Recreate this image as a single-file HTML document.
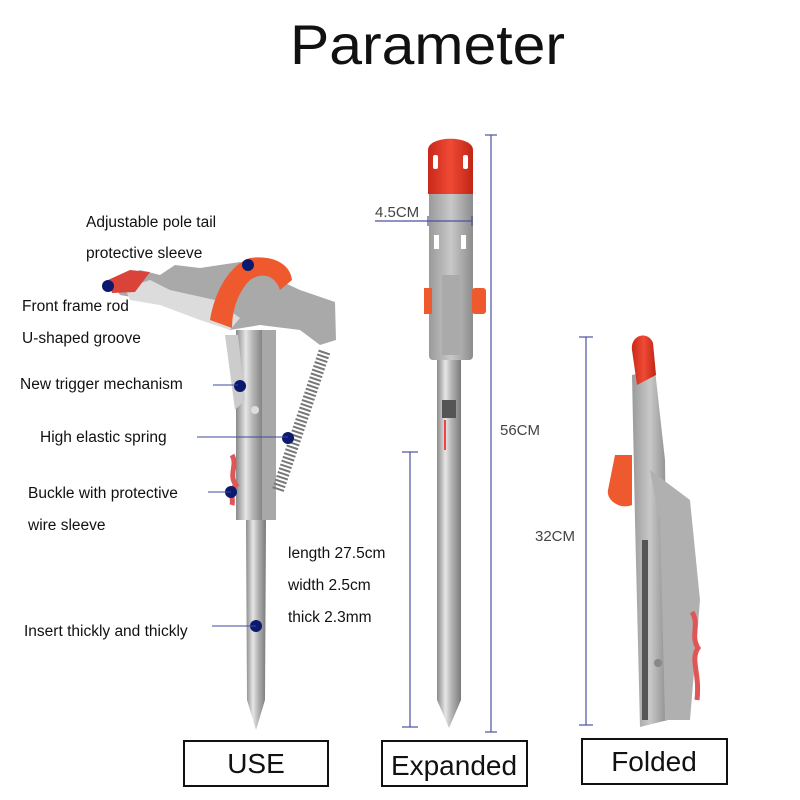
<!DOCTYPE html>
<html><head><meta charset="utf-8"><style>
html,body{margin:0;padding:0;background:#fff;width:800px;height:800px;overflow:hidden}
svg{display:block}
text{font-family:"Liberation Sans",Arial,sans-serif;fill:#111}
</style></head><body>
<svg width="800" height="800" viewBox="0 0 800 800" xmlns="http://www.w3.org/2000/svg">
<defs>
<linearGradient id="steel" x1="0" x2="1" y1="0" y2="0">
<stop offset="0" stop-color="#8a8a8a"/><stop offset="0.35" stop-color="#e6e6e6"/><stop offset="0.6" stop-color="#b5b5b5"/><stop offset="1" stop-color="#7a7a7a"/>
</linearGradient>
<linearGradient id="grey" x1="0" x2="1"><stop offset="0" stop-color="#9a9a9a"/><stop offset="0.5" stop-color="#c8c8c8"/><stop offset="1" stop-color="#8c8c8c"/></linearGradient>
<linearGradient id="red" x1="0" x2="1"><stop offset="0" stop-color="#c9281a"/><stop offset="0.5" stop-color="#ef4a35"/><stop offset="1" stop-color="#c02515"/></linearGradient>
</defs>

<text x="290" y="64" font-size="56" textLength="275" lengthAdjust="spacingAndGlyphs">Parameter</text>

<!-- LEFT PRODUCT -->
<polygon points="246,520 266,520 265,700 256,730 247,700" fill="url(#steel)"/>
<path d="M112,283 L140,270 L160,275 L175,265 L200,268 L240,262 L300,290 L335,302 L336,340 L320,345 L300,330 L260,325 L230,330 L205,310 L175,300 L150,300 L120,295 Z" fill="#a9a9a9"/>
<path d="M125,288 L150,280 L170,290 L215,300 L240,318 L230,330 L200,320 L160,305 L130,300 Z" fill="#dcdcdc"/>
<path d="M108,280 L130,270 L150,272 L135,292 L112,293 Z" fill="#d9433a"/>
<path d="M210,320 C215,290 230,265 250,258 C270,255 290,262 292,280 L280,290 C275,275 262,272 250,280 C238,292 232,310 232,328 Z" fill="#ee5a2e"/>
<rect x="236" y="330" width="28" height="190" fill="url(#steel)"/>
<rect x="262" y="330" width="14" height="190" fill="#a8a8a8"/>
<polygon points="225,335 238,335 245,400 235,410" fill="#ccc"/>
<path d="M278,490 L325,350" stroke="#777" stroke-width="12" stroke-dasharray="2 2"/>
<path d="M232,455 C238,465 228,475 236,485 C228,492 234,498 232,505" stroke="#e05656" stroke-width="5" fill="none"/>
<circle cx="255" cy="410" r="4" fill="#ddd"/>

<!-- label dots and lines -->
<g fill="#0b1a6e">
<circle cx="248" cy="265" r="6"/>
<circle cx="108" cy="286" r="6"/>
<circle cx="240" cy="386" r="6"/>
<circle cx="288" cy="438" r="6"/>
<circle cx="231" cy="492" r="6"/>
<circle cx="256" cy="626" r="6"/>
</g>
<g stroke="#3b4aa0" stroke-width="1">
<line x1="213" y1="385" x2="238" y2="385"/>
<line x1="197" y1="437" x2="288" y2="437"/>
<line x1="208" y1="492" x2="231" y2="492"/>
<line x1="212" y1="626" x2="256" y2="626"/>
</g>

<g font-size="15.5">
<text x="86" y="227">Adjustable pole tail</text>
<text x="86" y="258">protective sleeve</text>
<text x="22" y="311">Front frame rod</text>
<text x="22" y="343">U-shaped groove</text>
<text x="20" y="389">New trigger mechanism</text>
<text x="40" y="442">High elastic spring</text>
<text x="28" y="498">Buckle with protective</text>
<text x="28" y="530">wire sleeve</text>
<text x="288" y="558">length 27.5cm</text>
<text x="288" y="590">width 2.5cm</text>
<text x="288" y="622">thick 2.3mm</text>
<text x="24" y="636">Insert thickly and thickly</text>
</g>

<!-- MIDDLE PRODUCT -->
<polygon points="437,450 461,450 461,700 449,728 437,700" fill="url(#steel)"/>
<rect x="437" y="360" width="24" height="95" fill="url(#steel)"/>
<rect x="442" y="400" width="14" height="18" fill="#555"/>
<line x1="445" y1="420" x2="445" y2="450" stroke="#e44" stroke-width="2"/>
<rect x="429" y="190" width="44" height="170" rx="4" fill="url(#grey)"/>
<rect x="434" y="235" width="5" height="14" fill="#fff"/>
<rect x="461" y="235" width="5" height="14" fill="#fff"/>
<path d="M428,194 L428,150 C428,135 473,135 473,150 L473,194 Z" fill="url(#red)"/>
<rect x="433" y="155" width="5" height="14" rx="2" fill="#fff"/>
<rect x="463" y="155" width="5" height="14" rx="2" fill="#fff"/>
<rect x="424" y="288" width="8" height="26" fill="#ee5a2e"/>
<rect x="472" y="288" width="14" height="26" rx="3" fill="#ee5a2e"/>
<rect x="442" y="275" width="18" height="80" fill="#aaa"/>

<!-- dimension lines -->
<g stroke="#4a52a0" stroke-width="1.2">
<line x1="491" y1="135" x2="491" y2="732"/>
<line x1="485" y1="135" x2="497" y2="135"/>
<line x1="485" y1="732" x2="497" y2="732"/>
<line x1="410" y1="452" x2="410" y2="727"/>
<line x1="402" y1="452" x2="418" y2="452"/>
<line x1="402" y1="727" x2="418" y2="727"/>
<line x1="375" y1="221" x2="472" y2="221"/>
<line x1="428" y1="216" x2="428" y2="226"/>
<line x1="472" y1="216" x2="472" y2="226"/>
<line x1="586" y1="337" x2="586" y2="725"/>
<line x1="579" y1="337" x2="593" y2="337"/>
<line x1="579" y1="725" x2="593" y2="725"/>
</g>
<g font-size="15" fill="#444">
<text x="375" y="217" style="fill:#444">4.5CM</text>
<text x="500" y="435" style="fill:#444">56CM</text>
<text x="535" y="541" style="fill:#444">32CM</text>
</g>

<!-- RIGHT PRODUCT -->
<polygon points="632,375 655,370 665,460 668,720 640,727 635,520" fill="url(#grey)"/>
<polygon points="650,470 690,500 700,600 690,720 665,720 660,520" fill="#b0b0b0"/>
<rect x="642" y="540" width="6" height="180" fill="#555"/>
<path d="M632,350 C630,335 648,330 653,343 L656,375 L637,385 Z" fill="url(#red)"/>
<path d="M615,455 L632,455 L632,505 C620,510 606,500 608,490 Z" fill="#ee5a2e"/>
<path d="M692,612 C700,625 690,635 698,648 C690,660 700,672 697,700" stroke="#e05656" stroke-width="5" fill="none"/>
<circle cx="658" cy="663" r="4" fill="#888"/>

<!-- label boxes -->
<g fill="none" stroke="#111" stroke-width="2">
<rect x="184" y="741" width="144" height="45"/>
<rect x="382" y="741" width="145" height="45"/>
<rect x="582" y="739" width="145" height="45"/>
</g>
<g font-size="28" text-anchor="middle">
<text x="256" y="773">USE</text>
<text x="454" y="775">Expanded</text>
<text x="654" y="771">Folded</text>
</g>
</svg>
</body></html>
